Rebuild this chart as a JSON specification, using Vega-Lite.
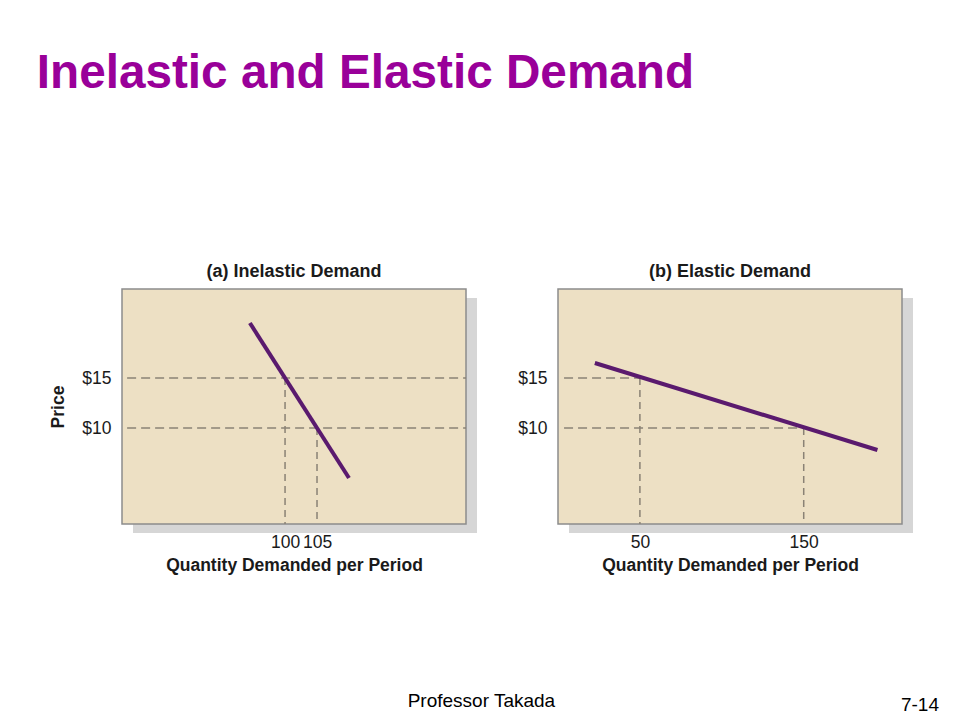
{
  "$schema": "https://vega.github.io/schema/vega-lite/v6.json",
  "background": "white",
  "padding": {"left": 36, "top": 49, "right": 10, "bottom": 5},
  "title": {"text": "Inelastic and Elastic Demand", "anchor": "start", "font": "Liberation Sans", "fontSize": 47.7, "fontWeight": "bold", "color": "#990099", "dx": -13, "offset": 166},
  "datasets": {
    "boxA": [{"qMin": 74.5, "qMax": 128.3, "pMin": 0.4, "pMax": 23.9}],
    "boxB": [{"qMin": 0, "qMax": 210, "pMin": 0.4, "pMax": 23.9}],
    "demandA": [{"q": 94.5, "p": 20.5}, {"q": 110, "p": 5}],
    "guidesA": [
      {"q": 100, "p": 15, "qLeft": 75.3, "qRight": 128.3, "pBottom": 0.4},
      {"q": 105, "p": 10, "qLeft": 75.3, "qRight": 128.3, "pBottom": 0.4}
    ],
    "demandB": [{"q": 22.5, "p": 16.5}, {"q": 195, "p": 7.8}],
    "guidesB": [
      {"q": 50, "p": 15, "qLeft": 3.7, "qRight": 50, "pBottom": 0.4},
      {"q": 150, "p": 10, "qLeft": 3.7, "qRight": 150, "pBottom": 0.4}
    ]
  },
  "vconcat": [
    {
      "title": {"text": "7-14", "orient": "bottom", "anchor": "end", "font": "Liberation Sans", "fontSize": 19, "fontWeight": "normal", "color": "#000000", "dx": 26, "offset": -15},
      "vconcat": [
        {
          "title": {"text": "Professor Takada", "orient": "bottom", "anchor": "middle", "font": "Liberation Sans", "fontSize": 19, "fontWeight": "normal", "color": "#000000", "offset": 118},
          "spacing": 40,
          "hconcat": [
            {
              "width": 344,
              "height": 235,
              "title": {"text": "(a) Inelastic Demand", "font": "Liberation Sans", "fontSize": 18, "fontWeight": "bold", "color": "#1a1a1a", "offset": 7},
              "layer": [
                {"data": {"name": "boxA"}, "mark": {"type": "rect", "fill": "#d6d6d6", "xOffset": 11, "x2Offset": 11, "yOffset": 9, "y2Offset": 9}, "encoding": {"x": {"field": "qMin", "type": "quantitative"}, "x2": {"field": "qMax"}, "y": {"field": "pMin", "type": "quantitative"}, "y2": {"field": "pMax"}}},
                {"data": {"name": "boxA"}, "mark": {"type": "rect", "fill": "#ede0c4", "stroke": "#8c8c8c", "strokeWidth": 1.5}, "encoding": {"x": {"field": "qMin", "type": "quantitative"}, "x2": {"field": "qMax"}, "y": {"field": "pMin", "type": "quantitative"}, "y2": {"field": "pMax"}}},
                {
                  "data": {"name": "guidesA"},
                  "mark": {"type": "rule", "color": "#8a8275", "strokeWidth": 1.5, "strokeDash": [9, 5]},
                  "encoding": {
                    "x": {"field": "qLeft", "type": "quantitative", "scale": {"domain": [74.5, 128.3], "nice": false, "zero": false}, "axis": {"values": [100, 105], "title": "Quantity Demanded per Period", "labelPadding": 9, "titlePadding": 6}},
                    "x2": {"field": "qRight"},
                    "y": {"field": "p", "type": "quantitative", "scale": {"domain": [0.4, 23.9], "nice": false, "zero": false}, "axis": {"values": [10, 15], "labelExpr": "'$' + datum.value", "title": "Price", "labelPadding": 11, "titlePadding": 14}}
                  }
                },
                {
                  "data": {"name": "guidesA"},
                  "mark": {"type": "rule", "color": "#8a8275", "strokeWidth": 1.5, "strokeDash": [7, 5]},
                  "encoding": {
                    "x": {"field": "q", "type": "quantitative"},
                    "y": {"field": "p", "type": "quantitative"},
                    "y2": {"field": "pBottom"}
                  }
                },
                {
                  "data": {"name": "demandA"},
                  "mark": {"type": "line", "color": "#5a1a6e", "strokeWidth": 4},
                  "encoding": {
                    "x": {"field": "q", "type": "quantitative"},
                    "y": {"field": "p", "type": "quantitative"}
                  }
                }
              ]
            },
            {
              "width": 344,
              "height": 235,
              "title": {"text": "(b) Elastic Demand", "font": "Liberation Sans", "fontSize": 18, "fontWeight": "bold", "color": "#1a1a1a", "offset": 7},
              "layer": [
                {"data": {"name": "boxB"}, "mark": {"type": "rect", "fill": "#d6d6d6", "xOffset": 11, "x2Offset": 11, "yOffset": 9, "y2Offset": 9}, "encoding": {"x": {"field": "qMin", "type": "quantitative"}, "x2": {"field": "qMax"}, "y": {"field": "pMin", "type": "quantitative"}, "y2": {"field": "pMax"}}},
                {"data": {"name": "boxB"}, "mark": {"type": "rect", "fill": "#ede0c4", "stroke": "#8c8c8c", "strokeWidth": 1.5}, "encoding": {"x": {"field": "qMin", "type": "quantitative"}, "x2": {"field": "qMax"}, "y": {"field": "pMin", "type": "quantitative"}, "y2": {"field": "pMax"}}},
                {
                  "data": {"name": "guidesB"},
                  "mark": {"type": "rule", "color": "#8a8275", "strokeWidth": 1.5, "strokeDash": [9, 5]},
                  "encoding": {
                    "x": {"field": "qLeft", "type": "quantitative", "scale": {"domain": [0, 210], "nice": false, "zero": false}, "axis": {"values": [50, 150], "title": "Quantity Demanded per Period", "labelPadding": 9, "titlePadding": 6}},
                    "x2": {"field": "qRight"},
                    "y": {"field": "p", "type": "quantitative", "scale": {"domain": [0.4, 23.9], "nice": false, "zero": false}, "axis": {"values": [10, 15], "labelExpr": "'$' + datum.value", "title": null, "labelPadding": 11}}
                  }
                },
                {
                  "data": {"name": "guidesB"},
                  "mark": {"type": "rule", "color": "#8a8275", "strokeWidth": 1.5, "strokeDash": [7, 5]},
                  "encoding": {
                    "x": {"field": "q", "type": "quantitative"},
                    "y": {"field": "p", "type": "quantitative"},
                    "y2": {"field": "pBottom"}
                  }
                },
                {
                  "data": {"name": "demandB"},
                  "mark": {"type": "line", "color": "#5a1a6e", "strokeWidth": 4},
                  "encoding": {
                    "x": {"field": "q", "type": "quantitative"},
                    "y": {"field": "p", "type": "quantitative"}
                  }
                }
              ]
            }
          ]
        }
      ]
    }
  ],
  "config": {
    "font": "Liberation Sans",
    "view": {"stroke": null},
    "axis": {"domain": false, "ticks": false, "grid": false, "labelFont": "Liberation Sans", "labelFontSize": 17.5, "labelColor": "#1a1a1a", "titleFont": "Liberation Sans", "titleFontSize": 17.5, "titleFontWeight": "bold", "titleColor": "#1a1a1a"}
  }
}
